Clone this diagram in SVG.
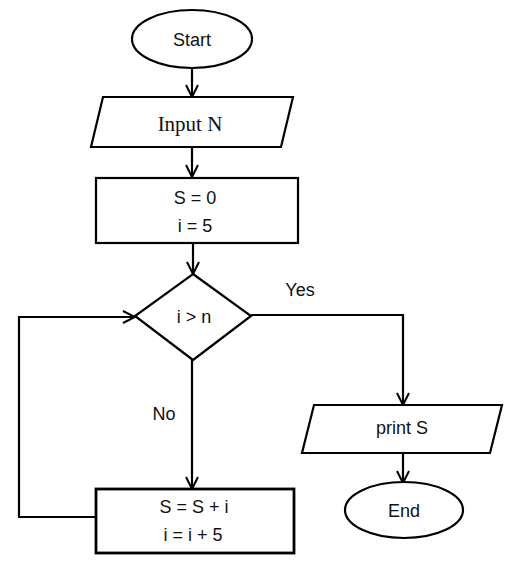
<svg xmlns="http://www.w3.org/2000/svg" width="529" height="566" viewBox="0 0 529 566">
<style>
.shape{fill:#fff;stroke:#000;stroke-width:2.2}
.thick{stroke-width:2.8}
.line{fill:none;stroke:#000;stroke-width:2.2}
text{font-family:"Liberation Sans","Open Sans",Arial,sans-serif;font-size:18px;fill:#111;text-anchor:middle}
.serif{font-family:"Liberation Serif","DejaVu Serif",serif;font-size:21px}
</style>
<defs>
<marker id="arr" viewBox="0 0 14 14" refX="13" refY="7" markerWidth="14" markerHeight="14" markerUnits="userSpaceOnUse" orient="auto">
<polyline points="1,1 13,7 1,13" fill="none" stroke="#000" stroke-width="2"/>
</marker>
</defs>
<rect width="529" height="566" fill="#fff"/>
<g id="connectors">
<line class="line" x1="192" y1="69" x2="192" y2="97" marker-end="url(#arr)"/>
<line class="line" x1="192" y1="147" x2="192" y2="177" marker-end="url(#arr)"/>
<line class="line" x1="193" y1="243" x2="193" y2="274" marker-end="url(#arr)"/>
<line class="line" x1="192" y1="360" x2="192" y2="489" marker-end="url(#arr)"/>
<polyline class="line" points="96,517 19,517 19,317 135,317" marker-end="url(#arr)"/>
<polyline class="line" points="251,315 403,315 403,405" marker-end="url(#arr)"/>
<line class="line" x1="403" y1="453" x2="403" y2="483" marker-end="url(#arr)"/>
<text x="300" y="296">Yes</text>
<text x="164" y="420">No</text>
</g>
<g id="start">
<ellipse class="shape" cx="192" cy="39" rx="60" ry="29"/>
<text x="192" y="46">Start</text>
</g>
<g id="input">
<polygon class="shape" points="103,97 293,97 281,147 91,147"/>
<text class="serif" x="190" y="131">Input  N</text>
</g>
<g id="init">
<rect class="shape" x="96" y="178" width="202" height="65"/>
<text x="195" y="204">S = 0</text>
<text x="195" y="232">i = 5</text>
</g>
<g id="decision">
<polygon class="shape" points="193,274 251,316 193,360 135,316"/>
<text x="194" y="323">i &gt; n</text>
</g>
<g id="update">
<rect class="shape thick" x="96" y="489" width="198" height="64"/>
<text x="194" y="513">S = S + i</text>
<text x="193" y="541">i = i + 5</text>
</g>
<g id="print">
<polygon class="shape" points="314,405 502,405 490,453 302,453"/>
<text x="402" y="434">print S</text>
</g>
<g id="end">
<ellipse class="shape" cx="404" cy="510" rx="59" ry="28"/>
<text x="404" y="517">End</text>
</g>
</svg>
